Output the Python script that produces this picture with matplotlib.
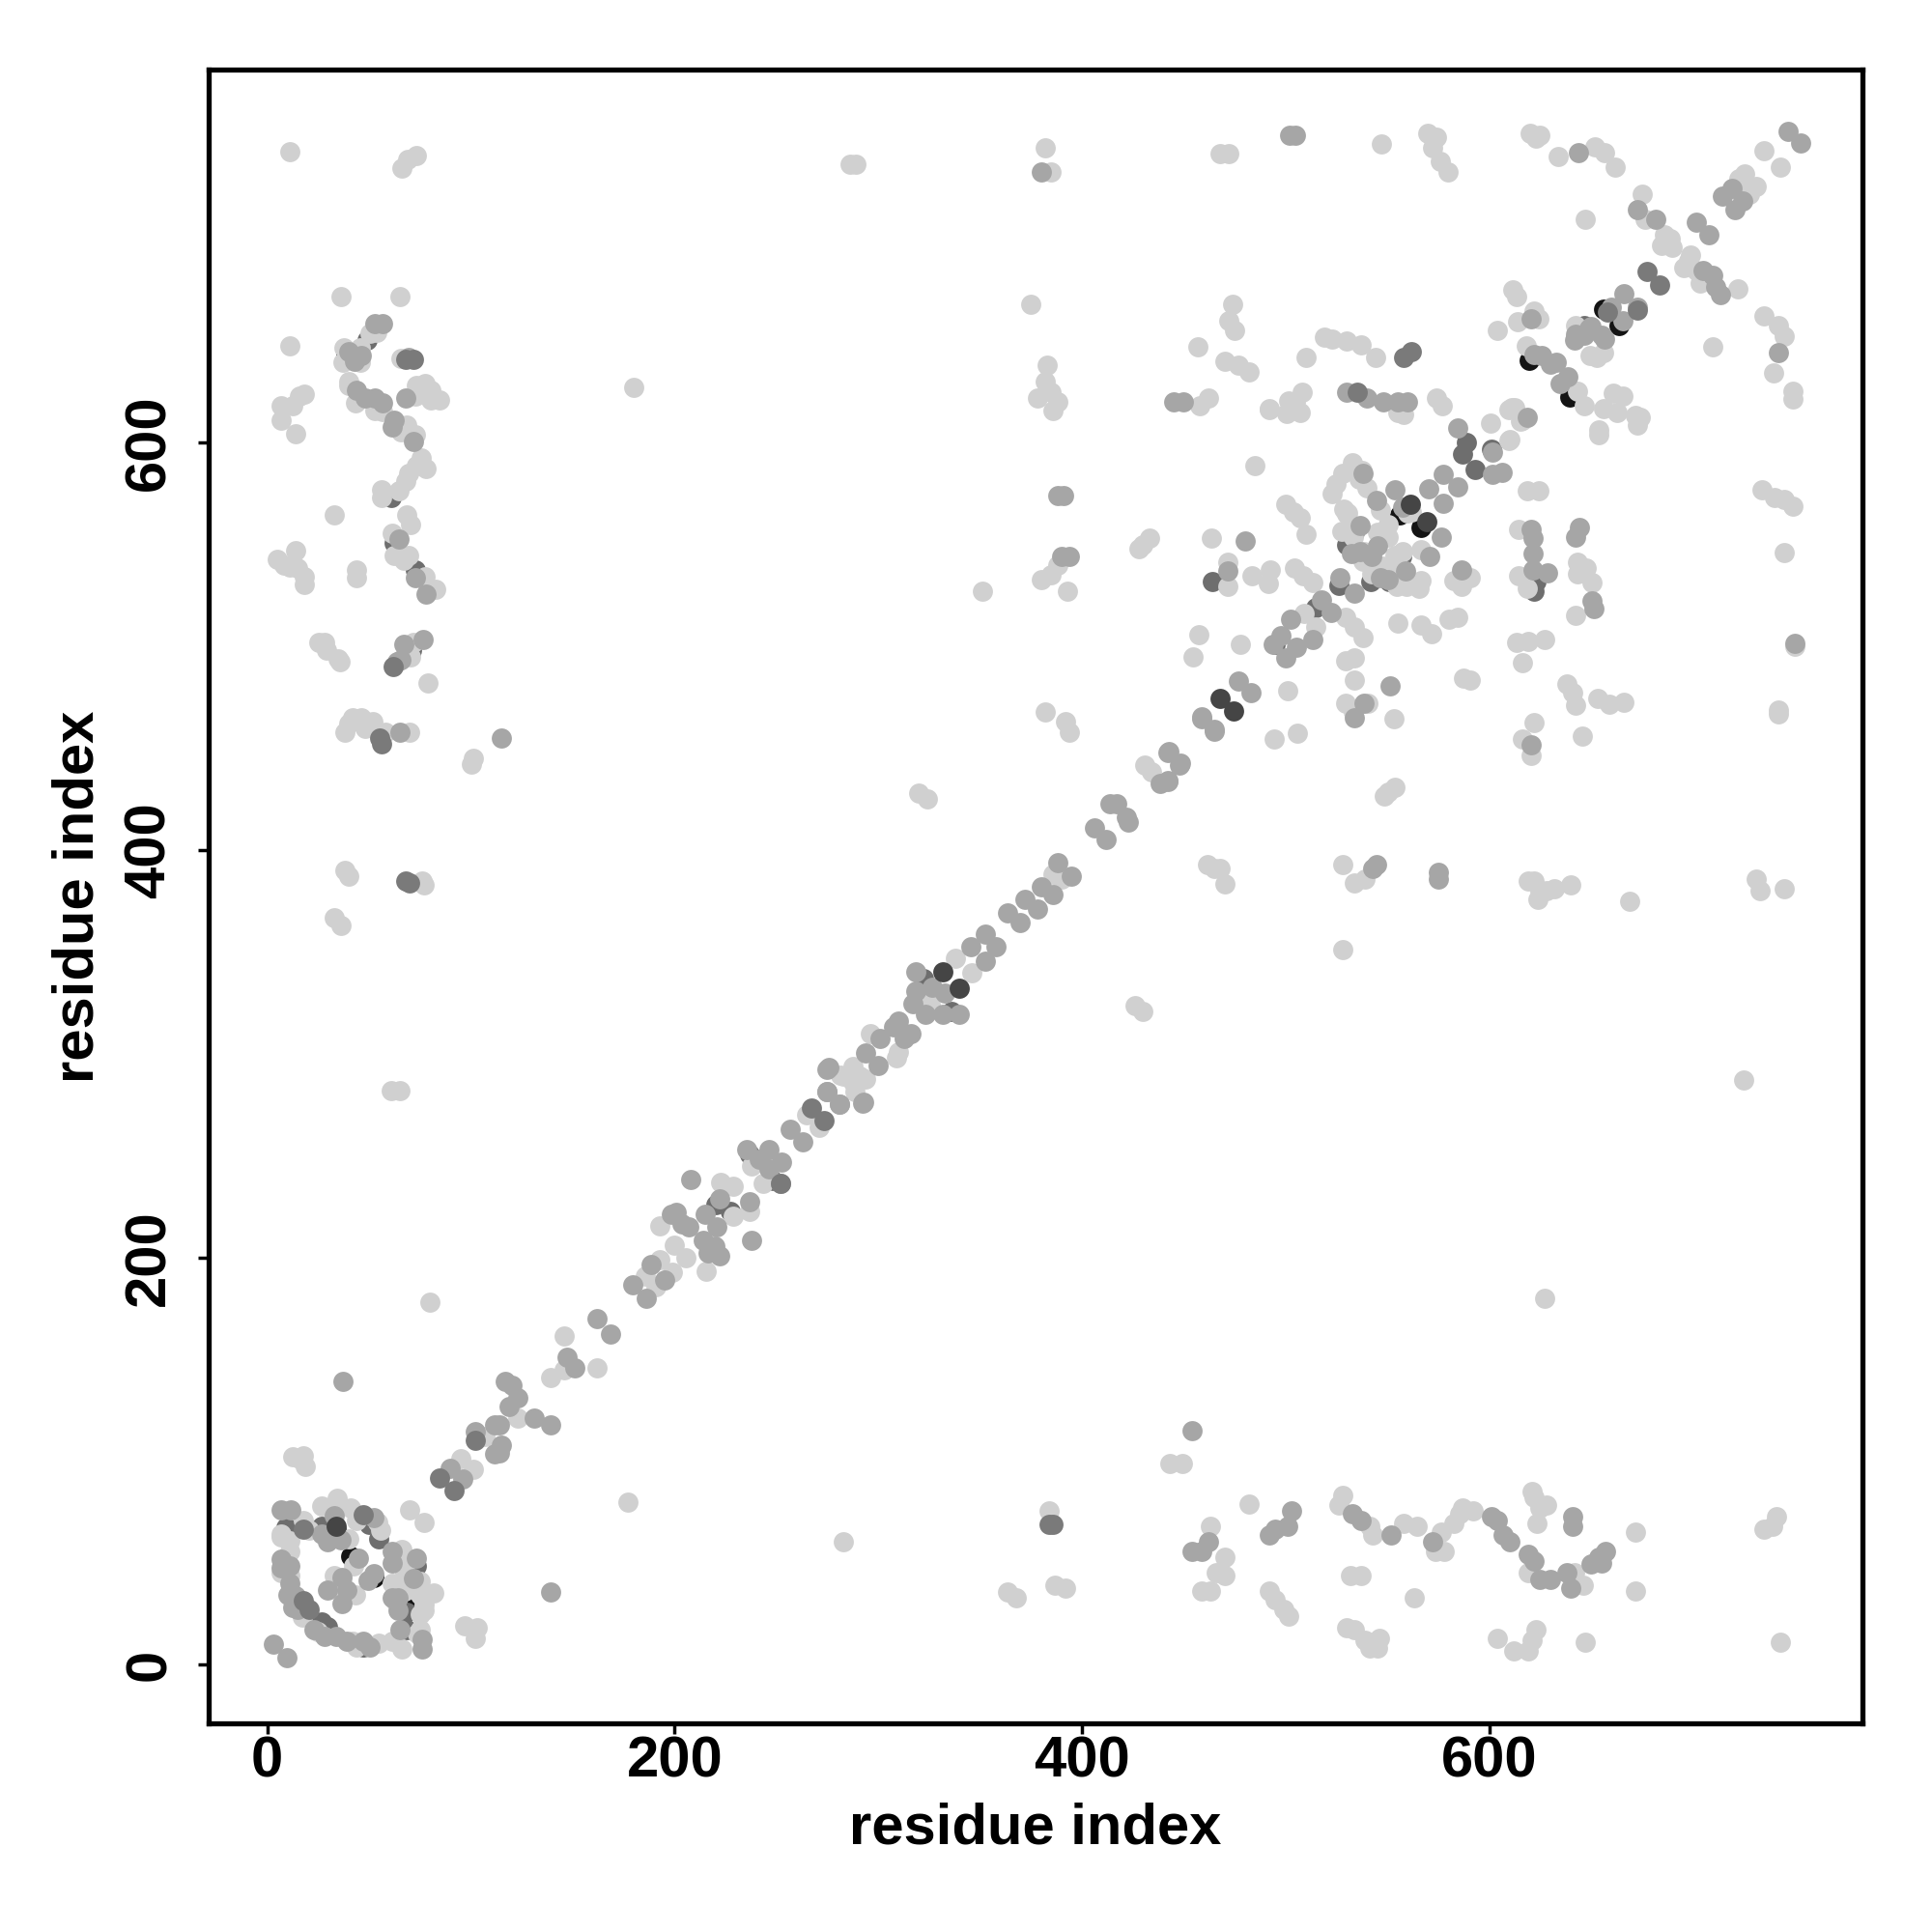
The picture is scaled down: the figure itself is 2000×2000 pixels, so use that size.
import matplotlib
matplotlib.use('Agg')
import matplotlib.pyplot as plt

tick_values = [0, 200, 400, 600]

# contacts, (residue, residue), grouped by shade
black_pts = [(67.5, 30.5), (40.7, 53.3), (52.5, 43), (566.5, 558.5), (656, 665.6), (663.9, 657.7), (619.7, 640.4),
             (639.4, 622.6), (38.6, 644.2), (33.7, 66), (555, 539.4), (556, 564.4)]

# dark dots that mostly sit under the others
under_pts = [(220.4, 226), (227.5, 222.8), (236.9, 250.5), (248, 237.8), (322.3, 336.7), (335.8, 320.9), (646.5, 657.7),
             (530, 550), (541.7, 532), (551, 532), (534, 556), (495, 501), (515, 519), (526, 530), (48.8, 650.5),
             (60.7, 573), (71, 498), (72.5, 537.5), (62.3, 551), (50, 69), (26.6, 68.2), (9.3, 67.5), (68.3, 17),
             (47, 8.5), (29.7, 18.7), (26.6, 21), (68.3, 25.8), (73, 48.6), (54.9, 62), (623, 532), (622, 527),
             (589, 600), (587, 594.5), (593, 587), (601, 597), (557, 544), (464, 532), (709, 681)]

darkest_pts = [(33.7, 68.2), (468, 474.3), (474.3, 468.3), (569.5, 561.5), (561.5, 570), (331.8, 340.2), (340, 332.3)]

dark_pts = [(17.9, 66.7), (47, 73.7), (20.3, 27.3), (17.9, 31.3), (84.8, 91.8), (91.9, 85.5), (102, 110),
            (267.3, 273.4), (273.6, 267.4), (56, 452), (55, 455), (62, 490), (72, 641), (68, 641),
            (384, 69), (386, 69), (68, 385), (70, 384), (673, 665), (677.6, 684), (683.6, 677.6), (558, 642), (562, 645),
            (535, 625), (252, 236.4), (658, 664)]

mid_pts = [(6.9, 76), (11.6, 76), (32.9, 73), (31.3, 62.7), (52.5, 72.2), (61.2, 55.7), (73, 52.5), (64.3, 32.8),
           (65.1, 17), (76.1, 12.4), (76.1, 7.7), (50.2, 8.5), (39.2, 11.6), (33.7, 14), (14.8, 27.3), (14, 34),
           (10.9, 48.6), (6.9, 51.7), (44.7, 52.5), (52.5, 44.7), (49.4, 41.5), (36.8, 43), (29.7, 36.8), (39.2, 36.8),
           (36.8, 30), (61.2, 32.8), (3, 10), (9.6, 3.3), (90, 96.6), (95.8, 91), (102, 114.6), (111.5, 118),
           (26.6, 64.3), (29.7, 60.4), (36, 61.2), (6.9, 47.8), (10.9, 40), (10, 34.4), (12.4, 28), (22.7, 17), (28, 14),
           (47, 11.6), (64.3, 26.6), (72, 42.3), (61.2, 50),
           (111.5, 103.6), (114.7, 108), (117, 139), (120, 137), (123, 131), (118.6, 127), (114, 118), (114, 104),
           (131, 121), (139, 118), (147, 151), (151, 146), (161.9, 169.9), (168.7, 162.3), (179.3, 186.5), (186, 180),
           (188.3, 196.3), (195, 188.8), (222.2, 200.7), (216.4, 202.3), (214, 208.6), (219.6, 205.4), (198.2, 221.2),
           (200.6, 222), (206.9, 214.9), (203.8, 216.5), (220.8, 214.9), (214.8, 221.2), (238, 208.3), (208, 238.3),
           (221.9, 228.8), (236.9, 227.2), (235.4, 252.8), (246.4, 253.2), (241.7, 248), (252.7, 246.8), (246.4, 243.4),
           (252, 236.2), (257, 263), (263, 257), (274.9, 281.3), (280.9, 275.3), (274.9, 292.3), (292.2, 275.8),
           (275.7, 293.2), (275, 281.4), (281, 275.4), (293, 276.2), (293.9, 300.3), (299.9, 294.3), (301, 307.4),
           (309.7, 316.1), (316, 310.1), (307.3, 313.3), (312.9, 307.4), (318.4, 340.2), (326.3, 332.7), (316.8, 324.8),
           (323, 319.3), (331.8, 319.3), (339.7, 319.3), (332.6, 329.6), (318.4, 331), (345.3, 352.5), (352.4, 358.8),
           (357.9, 352.5), (352.4, 345.4), (363.6, 369), (369.7, 364.3), (372, 376), (378, 371), (380, 382), (388, 394),
           (386, 378), (395, 387), (406, 411), (412, 405), (414, 423), (417, 423), (422, 416), (423, 414), (438.6, 432.6),
           (442, 434), (442, 447.7), (447.7, 441.6), (459, 464.6), (465, 458.6), (477, 483), (483, 477.5),
           (459, 465.3), (465, 459.4), (442.5, 448.5), (448.5, 442.5), (442, 433.5), (44, 626), (48, 622), (52.8, 622),
           (56.7, 619.7), (62.3, 611), (61.5, 607.8), (71.7, 600.7), (56.7, 658.4), (52.8, 658.4), (69.4, 641.8),
           (67.8, 622), (64.6, 552.6), (72.5, 533.6), (78, 525.7), (76.5, 503.6), (67, 501), (65.4, 493.3), (63.8, 492.5),
           (40, 645), (43, 640), (46, 643), (115, 455), (65, 458), (37, 139), (380, 733), (388, 574),
           (391, 574), (394, 544), (390, 544), (445, 620), (450, 620), (502, 751), (505, 751), (643.8, 742.3), (530, 625),
           (540, 622), (548, 620), (555, 620), (560, 620), (538, 585), (553.5, 577), (576.5, 553.5), (577.5, 570.5),
           (570.5, 577.5), (584.5, 578.5), (577.5, 584.5), (584.5, 607.5), (601.5, 584.5), (606.5, 585.5), (601.5, 595.5),
           (480, 552), (471.5, 537), (522.5, 516.5), (502.5, 513.6), (505.5, 499.5), (500, 494.5), (513.5, 503.5),
           (497.9, 505.5), (493.9, 501), (551.5, 480.5), (538.5, 472), (534, 465), (620.5, 557.5), (621.5, 553),
           (621.5, 545.5), (621.5, 537.5), (628.5, 536), (644.5, 558.5), (642.5, 553.5), (650.5, 522.5), (651.5, 518.5),
           (544.5, 571.8), (545, 549.5), (532.5, 545.5), (536.5, 559.5), (559, 537), (546.5, 534), (571, 544.3), (557.5, 568.5),
           (586.5, 537.5), (536.5, 546.5), (542.5, 544), (550.5, 533), (526.5, 534), (534, 526), (517.5, 523), (543, 391),
           (544.5, 393), (575, 389), (575, 386), (618.5, 612.5), (642.6, 653.5), (649, 656), (655, 653),
           (642.1, 650.6), (646.5, 653), (650, 657), (656.8, 651), (660, 666.4), (665.8, 660.1), (666.3, 673.2), (672.6, 666.7),
           (622, 643.5), (626, 642.7), (630, 638.8), (633, 639.6), (638.6, 632.4), (634.7, 629.3), (620.4, 661),
           (672.6, 714.6), (682, 710), (705, 684.6), (709.7, 682.2), (711.3, 676.7), (713.7, 672.7), (701.8, 708.3),
           (707.8, 702.3), (714.5, 721), (719.2, 724.9), (720.8, 714.6), (724.7, 718.6), (746.9, 752.9), (752.9, 747.3),
           (750, 501.5), (741.8, 644.3), (454, 55.7), (459, 55.7), (462, 60.5), (492, 63.5), (495, 66.5), (501, 68), (503, 75.6),
           (533, 74), (537, 71), (552, 63.5), (572, 60.5), (601, 72.6), (604, 71), (607, 63.5), (610, 60.5), (619, 54),
           (622, 51), (625, 42), (630, 42), (638, 45), (640, 37.5), (650, 49.6), (654, 53), (657, 55.7), (655, 50),
           (139, 35.7), (454, 115), (641, 72.6), (641, 68), (620.5, 451.5)]

light_pts = [(17.9, 70.6), (6.9, 64.3), (26.6, 77.7), (34.4, 81.6), (40.7, 76.9), (40, 62), (54, 69.8), (55.7, 65.9),
             (65.9, 56.5), (67.5, 45.4), (75.3, 40.7), (81.6, 35.2), (76.9, 29.7), (75.3, 25), (75.3, 17), (73.8, 15.5),
             (65.9, 7.7), (61.2, 11.6), (54.9, 10.8), (43.9, 8.5), (25, 16.3), (10.9, 34.4), (10.9, 43.9), (10.9, 55.7),
             (6.9, 45.4), (42.3, 48.6), (32.9, 43.9), (33.7, 38.4), (43.1, 34.4), (61.2, 39.9), (69, 42.3), (15.6, 101),
             (12.4, 102), (18.7, 97.3), (17.9, 102.8), (6.9, 62.7), (10.9, 61), (20.3, 66), (43.9, 70.6), (17, 23.4),
             (42, 11.6), (62.8, 31.3), (67.5, 36), (75.3, 34.4), (76.9, 26.5), (67.5, 48.6),
             (70, 76), (77, 70), (95, 101), (101, 95.8), (106.8, 112),
             (97, 19), (103, 18), (102, 13), (123, 121), (139, 141), (146, 145), (146, 161.5), (162, 146),
             (185.6, 191), (192.7, 199), (199, 192.8), (191, 185.7), (215.6, 193), (205.3, 199.9), (199.8, 206.2), (192.7, 215.7),
             (229, 220.4), (222.7, 237), (228.7, 235.1), (237, 222.8), (237.7, 245), (243.3, 236.3), (265, 270), (271, 264),
             (282.8, 289), (287.5, 286), (290.7, 289), (281.3, 289.3), (287.6, 294), (293.9, 287.7), (288.4, 281.4),
             (296.3, 309.8), (308.9, 298), (309.7, 301.1), (320.8, 327.2), (325.5, 324), (338, 347), (346, 339.8),
             (386, 388), (390, 386), (431, 441.6), (434, 438.6), (11, 743), (66, 735), (69, 739), (73, 741), (36, 671.8),
             (65, 671.8), (11, 647.4), (7, 618), (12.5, 618), (15.6, 622.9), (18, 623.7), (7, 611), (14, 604.4), (33, 564.4),
             (53.6, 654.5), (50.4, 653.7), (37.8, 646.6), (40.9, 643.4), (45.7, 646.6), (37, 639.4), (45.7, 639.4), (65.4, 641.3),
             (40.1, 630), (40, 628), (43.3, 619.7), (52.8, 615.8), (56.7, 615.3), (68.6, 608.6), (72.5, 603.9), (65.4, 605.5),
             (75.7, 592.8), (78, 587.3), (73.3, 588.9), (69.4, 585), (67.8, 581), (64.6, 576.3), (55.9, 577), (55.9, 573),
             (73.3, 628.4), (77.3, 629.2), (80.4, 626), (84.4, 621.3), (72.5, 622.9), (80.4, 621.3), (68.6, 564.4), (70.2, 559.7),
             (61.5, 555.7), (62.3, 544.7), (67, 542.3), (69.4, 544.7), (77.3, 534.4), (82.8, 528), (78.8, 528.8), (14, 547),
             (14.8, 538.3), (18, 534.4), (18, 530.4), (5, 543), (8, 540), (11, 539), (44, 537.5), (44, 533.6), (25.1, 502),
             (28.3, 502), (29, 498), (34.6, 494), (35.9, 492.5), (71.7, 502), (70.2, 495), (78.8, 482),
             (38, 458), (40, 462), (42, 465), (46, 465), (48, 460), (52, 463), (58, 458), (70, 458), (101, 445),
             (100, 442), (38, 390), (40, 387), (76, 385), (77, 383), (33, 367), (36, 363), (180, 627), (61, 282), (65, 282),
             (80, 178), (286, 737), (289, 737), (382, 745), (385, 733), (375, 668), (383, 638), (378, 622), (382, 630),
             (385, 625), (388, 620), (386, 616), (385, 535), (380, 533), (388, 540), (393, 527), (382, 468), (392, 463),
             (394, 458), (351, 527), (320, 428), (324, 425), (430, 550), (433, 553), (428, 548), (458, 618), (462, 622),
             (457, 647), (468, 742), (472, 742), (547, 747), (570, 752), (574, 750), (572, 745), (576, 738), (580, 733),
             (620, 752), (625, 751), (633.9, 740.4), (652, 745.4), (656.8, 742.3), (662, 735.2), (474, 668), (472, 660), (475, 655),
             (470, 640), (477, 638), (482, 635), (492, 617), (505, 620), (508, 625), (507, 615), (485, 589), (500, 570),
             (504, 566), (507, 563), (510, 555), (525, 580), (523, 575), (519, 652), (523, 651), (530, 650), (537, 648),
             (544, 642), (510, 642), (558, 614), (555, 615), (574, 622), (577, 618), (528, 585), (533, 590), (536, 582),
             (540, 578), (530, 565), (609.5, 616.5), (615.5, 610.5), (600.5, 609.5), (609.5, 601), (537.5, 586.5), (492, 616.5), (500.5, 614.5),
             (501.5, 620.5), (618.5, 576.5), (624.5, 576.5), (614.5, 557.5), (614.5, 534.5), (618.5, 528.5), (643.5, 541.5), (647.5, 538.5), (643.5, 535.5),
             (650.5, 531.5), (642.5, 515.5), (463.5, 553), (471.5, 541.5), (471.5, 529.5), (483.5, 534.5), (492.5, 537.5), (491.5, 531), (504.5, 538.5),
             (508.5, 534.9), (513.5, 531.5), (529.5, 514.5), (534, 509.5), (538, 504.5), (534, 494.5), (529.5, 493.2), (534, 483.5),
             (509, 516), (515, 509.5), (457.3, 506), (454.5, 495), (478, 501), (501, 478.3), (494.5, 454.5),
             (506, 457.3), (553, 464.5), (540.5, 472), (529.5, 472), (533.5, 468), (587.5, 484.5), (590.5, 483.5), (638, 481.5),
             (641, 477.5), (642.5, 471), (653.5, 474.5), (659, 471.5), (666, 472.5), (622, 462.5), (616.5, 454.5), (620.5, 446.5),
             (645.5, 456.2), (553.5, 431), (548.5, 426.5), (550.5, 428.5), (555.3, 511.3), (566.3, 510.5), (571.5, 506.5), (580.5, 513.5),
             (584.5, 514.5), (613.5, 501.8), (619, 502.5), (627, 503.5), (616.5, 492), (530.5, 565.5), (528.5, 567.5), (527.5, 556.5),
             (546.5, 567), (545, 556), (557.5, 546.5), (553.5, 544.5), (542.5, 535.5), (554.5, 529.5), (566.5, 532.5), (565.5, 528.5), (559.5, 529.5),
             (566.5, 547.5), (560, 565.5), (590.5, 534), (582.5, 532.5), (586.5, 529.5), (538.5, 546.5), (538, 542), (547.5, 539.5),
             (555.3, 539.3), (533.3, 553.5), (531.5, 558), (550.5, 553.5), (550.5, 560), (562, 566), (612.5, 617.5),
             (611.8, 675.1), (613.3, 672), (622, 664.9), (624.4, 660.9), (614, 659.3), (618, 647.5), (604, 655), (622, 662), (643.4, 625.4),
             (646.5, 618.2), (656, 616.7), (660.7, 624.6), (665.5, 623), (663, 615), (671.8, 613.5), (674, 612.7), (672.6, 608.8),
             (654, 606.4), (654, 604), (611, 617.5), (616.5, 611.1), (610, 601.7), (649.4, 642.7), (656, 644.3), (652.8, 642),
             (642.6, 657.7), (675, 722.2), (676.5, 710), (687.6, 699.6), (689, 700.4), (684.4, 697.2), (686, 702), (690, 696), (697.9, 689.3),
             (695.5, 686.2), (701.8, 684.6), (703.4, 678.3), (699, 692), (721.9, 675.4), (722.4, 729.6), (725.5, 732), (731, 725.7), (728, 722),
             (735, 743.4), (742.9, 735.2), (647, 710), (709.7, 647.3), (735, 662.5), (741.8, 657.4), (745, 652.2), (739.7, 634.4),
             (749, 625.4), (749.2, 621.4), (622.8, 749.4), (734, 577), (740, 573), (745, 572), (749, 569), (745, 546), (750, 500), (742, 469),
             (742, 467), (731, 386), (733, 380), (745, 381), (725, 287), (669, 375), (622, 385), (619, 385), (625, 380), (624, 376), (628, 380),
             (632, 381), (640, 383), (528, 351), (528, 393), (534, 384), (539, 386), (461.6, 393), (465, 391), (468, 391),
             (470, 383.6), (426, 323.7), (430, 321), (627, 180), (443, 99), (449.5, 99), (482, 79), (177, 80), (283, 60.5), (384, 75.6),
             (363.6, 35.7), (368, 32.7), (386.6, 39), (392, 37.5), (463, 68), (470, 52.6), (466, 45), (470, 44), (459, 36),
             (463, 36), (492, 36), (495, 32), (499, 27), (501.5, 24), (526, 78.6), (528, 83), (541.5, 68), (543, 63.5),
             (558, 69.6), (564.5, 68), (532, 44), (537, 44), (563, 32.7), (530, 18), (534, 17), (539, 12), (541.5, 8),
             (545, 8), (546, 13), (573.5, 55.7), (578, 55.7), (576.6, 65), (582.6, 69.6), (585.6, 74), (587, 77), (592, 75.6),
             (619, 45), (621, 85), (622, 82), (625, 77), (628, 78.6), (623.6, 69.6), (646, 39), (642, 45), (672, 65),
             (672, 36), (647, 11), (604, 13), (612, 7), (619, 7), (621, 12), (623, 17), (735, 66.5), (739, 68), (741, 72.6),
             (743, 11)]

# draw order matters, dark crescents peek out under the lighter dots
layers = [(black_pts, '#141414'), (under_pts, '#6e6e6e'), (light_pts, '#d0d0d0'), (mid_pts, '#a6a6a6'),
          (dark_pts, '#7a7a7a'), (darkest_pts, '#454545')]

plt.rcParams['font.family'] = ['Liberation Sans', 'DejaVu Sans']
plt.rcParams['font.weight'] = 'bold'

fig = plt.figure(figsize=(20, 20), dpi=100)
ax = fig.add_axes([0.108, 0.108, 0.856, 0.856])

for pts, shade in layers:
    xs, ys = zip(*pts)
    ax.scatter(xs, ys, s=225, color=shade, linewidths=0, zorder=2)

ax.set_xlim(-28.8, 783.3)
ax.set_ylim(-28.8, 783.3)
ax.set_xticks(tick_values)
ax.set_yticks(tick_values)
ax.tick_params(axis='x', length=8, width=2.5, labelsize=43, pad=1)
ax.tick_params(axis='y', length=8, width=2.5, labelsize=43, pad=16)
for label in ax.get_yticklabels():
    label.set_rotation(90)
    label.set_va('center')
for spine in ax.spines.values():
    spine.set_linewidth(3.8)

ax.set_xlabel('residue index', fontsize=43, fontweight='bold', labelpad=10)
ax.set_ylabel('residue index', fontsize=43, fontweight='bold', labelpad=14)

fig.savefig('out.png', dpi=100)
